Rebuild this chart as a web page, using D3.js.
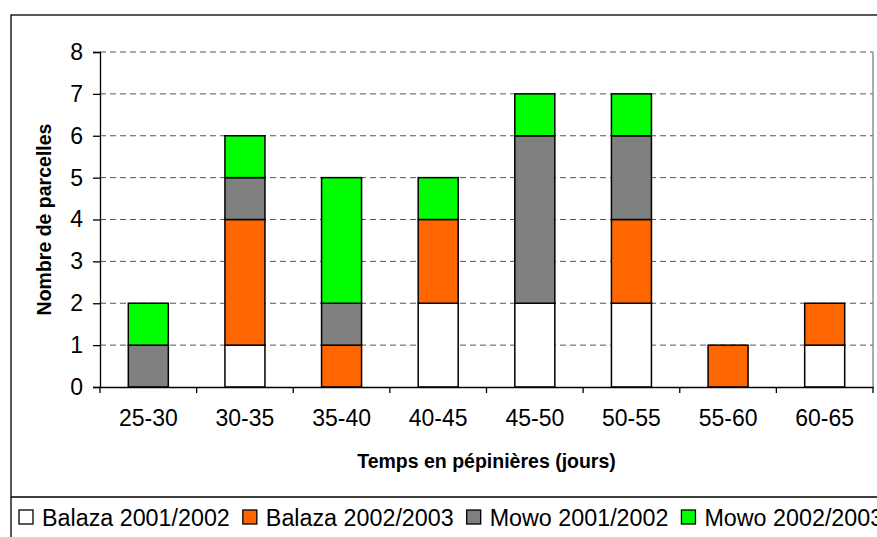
<!DOCTYPE html>
<html><head><meta charset="utf-8">
<script src="https://cdn.jsdelivr.net/npm/d3@7"></script>
<style>
html,body{margin:0;padding:0;background:#fff;}
svg{display:block;font-family:"Liberation Sans",Arial,sans-serif;}
</style></head>
<body>
<svg id="chart" width="877" height="537"></svg>
<script>
const categories = ["25-30","30-35","35-40","40-45","45-50","50-55","55-60","60-65"];
const seriesNames = ["Balaza 2001/2002","Balaza 2002/2003","Mowo 2001/2002","Mowo 2002/2003"];
const balaza2001 = [0,1,0,2,2,2,0,1];
const balaza2002 = [0,3,1,2,0,2,1,1];
const mowo2001   = [1,1,1,0,4,2,0,0];
const mowo2002   = [1,1,3,1,1,1,0,0];
const yTicks = [0,1,2,3,4,5,6,7,8];
const colors = ["#FFFFFF","#FF6600","#808080","#00FF00"];

const svg = d3.select("#chart");
const L = 100, R = 873, T = 52, B = 387;

// outer frame
svg.append("rect").attr("x",11).attr("y",15).attr("width",900).attr("height",600)
  .attr("fill","#fff").attr("stroke","#000").attr("stroke-width",1.3);
svg.append("line").attr("x1",11).attr("x2",900).attr("y1",497).attr("y2",497)
  .attr("stroke","#000").attr("stroke-width",1.3);

const x = d3.scaleBand().domain(categories).range([L,R]).padding(0);
const y = d3.scaleLinear().domain([0,8]).range([B,T]);

// gridlines
svg.append("g").selectAll("line").data(yTicks.filter(d=>d>0)).join("line")
  .attr("x1",L).attr("x2",R).attr("y1",d=>y(d)).attr("y2",d=>y(d))
  .attr("stroke","#555").attr("stroke-width",1).attr("stroke-dasharray","6,4");
// right border
svg.append("line").attr("x1",R).attr("x2",R).attr("y1",T).attr("y2",B)
  .attr("stroke","#808080").attr("stroke-width",1.3);

// stacked data
const rows = categories.map((c,i)=>({cat:c,
  [seriesNames[0]]:balaza2001[i],[seriesNames[1]]:balaza2002[i],
  [seriesNames[2]]:mowo2001[i],[seriesNames[3]]:mowo2002[i]}));
const stack = d3.stack().keys(seriesNames)(rows);
const bw = x.bandwidth()*0.414;
stack.forEach((s,si)=>{
  svg.append("g").selectAll("rect").data(s.filter(d=>d[1]>d[0])).join("rect")
    .attr("x",d=>x(d.data.cat)+(x.bandwidth()-bw)/2)
    .attr("y",d=>y(d[1]))
    .attr("width",bw)
    .attr("height",d=>y(d[0])-y(d[1]))
    .attr("fill",colors[si]).attr("stroke","#000").attr("stroke-width",1.5);
});

// y axis
const yAxis = d3.axisLeft(y).tickValues(yTicks).tickSize(7).tickPadding(10).tickFormat(d3.format("d"));
const gy = svg.append("g").attr("transform",`translate(${L},0)`).call(yAxis);
gy.select(".domain").attr("stroke","#000").attr("stroke-width",1.3);
gy.selectAll(".tick line").attr("stroke","#000").attr("stroke-width",1.3);
gy.selectAll("text").attr("font-size",23).attr("fill","#000").attr("font-family","Liberation Sans, Arial, sans-serif");

// x axis
const xAxis = d3.axisBottom(x).tickSize(0).tickPadding(23);
const gx = svg.append("g").attr("transform",`translate(0,${B})`).call(xAxis);
gx.select(".domain").attr("stroke","#000").attr("stroke-width",1.3);
gx.selectAll("text").attr("font-size",23).attr("fill","#000").attr("font-family","Liberation Sans, Arial, sans-serif");
const bounds = categories.map(c=>x(c)).concat([R]);
svg.append("g").selectAll("line").data(bounds).join("line")
  .attr("x1",d=>d).attr("x2",d=>d).attr("y1",B).attr("y2",B+6)
  .attr("stroke","#000").attr("stroke-width",1.3);

// axis titles
svg.append("text").attr("x",(L+R)/2).attr("y",468).attr("text-anchor","middle")
  .attr("font-size",19.5).attr("font-weight","bold").text("Temps en pépinières (jours)");
svg.append("text").attr("transform",`translate(51,${(T+B)/2}) rotate(-90)`).attr("text-anchor","middle")
  .attr("font-size",19.5).attr("font-weight","bold").text("Nombre de parcelles");

// legend
let lx = 19;
const lg = svg.append("g");
seriesNames.forEach((n,i)=>{
  lg.append("rect").attr("x",lx).attr("y",510).attr("width",14).attr("height",14)
    .attr("fill",colors[i]).attr("stroke","#000").attr("stroke-width",1.3);
  const t = lg.append("text").attr("x",lx+23).attr("y",526).attr("font-size",23.3).text(n);
  lx = lx + 23 + t.node().getComputedTextLength() + 13;
});
</script>
</body></html>
